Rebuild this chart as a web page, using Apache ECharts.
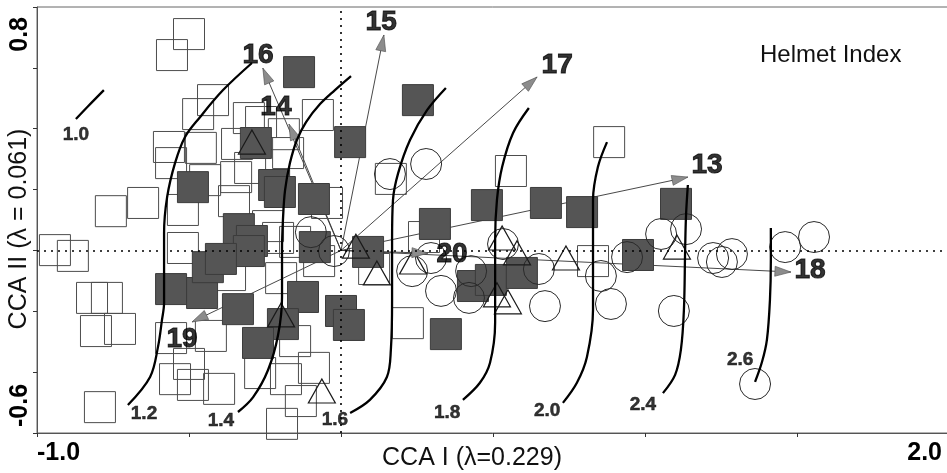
<!DOCTYPE html>
<html><head><meta charset="utf-8">
<script src="https://cdn.jsdelivr.net/npm/echarts@6/dist/echarts.min.js"></script>
<style>html,body{margin:0;padding:0;background:#fff}#c{width:947px;height:473px}</style>
</head><body><div id="c"></div>
<script>
// ---------------- data ----------------
const xTickLabels = ['-1.0', '2.0'];
const yTickLabels = ['-0.6', '0.8'];
const xAxisName = 'CCA I (λ=0.229)';
const yAxisName = 'CCA II (λ = 0.061)';
const panelTitle = 'Helmet Index';

const openSquares = [
  [-0.500,0.711],[-0.556,0.642],[-0.421,0.494],[-0.470,0.448],[-0.566,0.340],[-0.559,0.287],
  [-0.461,0.337],[-0.342,0.350],[-0.303,0.435],[-0.263,0.422],[-0.757,0.129],[-0.651,0.156],
  [-0.447,0.231],[-0.352,0.162],[-0.520,0.133],[-0.345,0.241],[-0.299,0.271],[-0.520,0.008],
  [-0.941,0.001],[-0.882,-0.018],[-0.819,-0.156],[-0.770,-0.156],[-0.806,-0.265],[-0.727,-0.258],
  [-0.793,-0.515],[-0.559,-0.288],[-0.428,-0.281],[-0.546,-0.423],[-0.500,-0.373],[-0.487,-0.442],
  [-0.401,-0.455],[-0.266,-0.403],[-0.194,-0.570],[-0.181,-0.423],[-0.132,-0.495],[-0.089,-0.386],
  [-0.151,-0.298],[0.220,-0.239],[-0.076,0.445],[-0.188,0.382],[-0.174,0.320],[-0.046,0.156],
  [-0.207,0.041],[-0.151,0.028],[0.273,0.044],[0.164,0.235],[0.882,0.356],[0.559,0.261],
  [0.829,-0.035],[-0.197,-0.091],[-0.072,-0.035],[0.109,-0.061],[-0.365,-0.081],[-0.240,0.080]
];
const filledSquares = [
  [-0.138,0.586],[0.253,0.494],[0.030,0.356],[-0.280,0.353],[-0.487,0.208],[-0.220,0.215],
  [-0.201,0.192],[-0.089,0.169],[-0.336,0.070],[-0.293,0.031],[-0.303,-0.002],[-0.086,0.011],
  [0.089,-0.005],[0.309,0.087],[0.480,0.149],[0.674,0.156],[0.793,0.126],[1.102,0.153],
  [0.977,-0.015],[0.434,-0.117],[0.493,-0.097],[0.595,-0.074],[0.345,-0.275],[-0.125,-0.153],
  [0.000,-0.199],[0.026,-0.245],[-0.339,-0.193],[-0.191,-0.242],[-0.273,-0.304],[-0.559,-0.127],
  [-0.457,-0.140],[-0.438,-0.055],[-0.395,-0.028]
];
const circles = [
  [-0.099,0.060],[-0.023,-0.002],[0.161,0.251],[0.280,0.284],[0.234,-0.068],[0.296,-0.025],
  [0.329,-0.133],[0.428,-0.068],[0.421,-0.156],[0.533,0.021],[0.651,-0.061],[0.671,-0.183],
  [0.855,-0.084],[0.888,-0.176],[0.941,-0.022],[1.053,0.054],[1.135,0.070],[1.095,-0.199],
  [1.224,-0.025],[1.253,-0.038],[1.286,-0.012],[1.461,0.011],[1.556,0.044],[1.362,-0.439]
];
const triangles = [
  [-0.293,0.356],[0.049,0.014],[0.118,-0.074],[0.237,-0.038],[0.530,0.041],[0.579,-0.008],
  [0.513,-0.146],[0.549,-0.169],[0.740,-0.025],[1.105,0.011],[-0.197,-0.212],[-0.063,-0.462]
];

const vectorNames = ['13','14','15','16','17','18','19','20'];
const vectorEnds = [
  [1.141,0.241],[-0.171,0.415],[0.141,0.708],[-0.257,0.599],
  [0.645,0.570],[1.480,-0.071],[-0.490,-0.235],[0.286,-0.009]
];
const vectorLabelPos = [
  [1.204,0.281],[-0.214,0.471],[0.132,0.751],[-0.273,0.642],
  [0.711,0.609],[1.543,-0.064],[-0.523,-0.291],[0.365,-0.012]
];

const isolineLevels = ['1.0','1.2','1.4','1.6','1.8','2.0','2.4','2.6'];
const isolines = [
  [[-0.872,0.432],[-0.832,0.474],[-0.780,0.527]],
  [[-0.293,0.616],[-0.388,0.527],[-0.464,0.438],[-0.513,0.373],[-0.546,0.287],[-0.572,0.175],
   [-0.582,0.057],[-0.582,-0.064],[-0.582,-0.173],[-0.589,-0.229],[-0.602,-0.317],[-0.628,-0.416],[-0.701,-0.508]],
  [[0.033,0.573],[-0.020,0.527],[-0.069,0.481],[-0.115,0.422],[-0.145,0.363],[-0.168,0.287],
   [-0.184,0.198],[-0.191,0.100],[-0.194,0.001],[-0.194,-0.153],[-0.207,-0.278],[-0.240,-0.393],
   [-0.289,-0.482],[-0.339,-0.531]],
  [[0.345,0.534],[0.283,0.461],[0.227,0.363],[0.188,0.254],[0.171,0.166],[0.168,0.034],
   [0.168,-0.163],[0.164,-0.327],[0.151,-0.416],[0.095,-0.491],[0.030,-0.534]],
  [[0.618,0.468],[0.566,0.386],[0.530,0.274],[0.513,0.166],[0.507,0.034],[0.507,-0.130],
   [0.507,-0.238],[0.490,-0.370],[0.457,-0.435],[0.401,-0.491]],
  [[0.875,0.356],[0.845,0.274],[0.829,0.166],[0.829,0.034],[0.829,-0.195],[0.809,-0.350],
   [0.776,-0.435],[0.730,-0.501]],
  [[1.141,0.215],[1.135,0.116],[1.132,0.001],[1.128,-0.196],[1.118,-0.327],[1.099,-0.409],[1.059,-0.469]],
  [[1.414,0.074],[1.414,-0.031],[1.411,-0.163],[1.401,-0.294],[1.385,-0.366],[1.362,-0.432]]
];
const isolineLabelPos = [
  [-0.872,0.379],[-0.648,-0.537],[-0.395,-0.561],[-0.020,-0.557],
  [0.349,-0.534],[0.678,-0.528],[0.993,-0.508],[1.313,-0.360]
];

const xMin = -1.0, xMax = 2.0, xStep = 0.5;
const yMin = -0.6, yMax = 0.8, yStep = 0.2;

// ---------------- chart ----------------
const FONT = 'Liberation Sans, Arial, Helvetica, sans-serif';
const near = (a, b) => Math.abs(a - b) < 1e-6;
const chart = echarts.init(document.getElementById('c'), null, {renderer: 'canvas'});

const HEAD_LEN = 16, HEAD_W = 10;

const series = [];
series.push({
  type: 'scatter', name: 'open', symbol: 'rect', symbolSize: 31,
  data: openSquares,
  itemStyle: {color: 'rgba(0,0,0,0)', borderColor: '#4d4d4d', borderWidth: 1, opacity: 1},
  markLine: {
    silent: true, symbol: 'none', label: {show: false}, animation: false,
    lineStyle: {color: '#000', type: [2, 5], width: 1.6},
    data: [{xAxis: 0}, {yAxis: 0}]
  }
});
series.push({
  type: 'scatter', name: 'filled', symbol: 'rect', symbolSize: 31,
  data: filledSquares,
  itemStyle: {color: '#555555', borderColor: '#3c3c3c', borderWidth: 1, opacity: 1}
});
series.push({
  type: 'scatter', name: 'circle', symbol: 'circle', symbolSize: 31,
  data: circles,
  itemStyle: {color: 'rgba(0,0,0,0)', borderColor: '#2a2a2a', borderWidth: 1, opacity: 1}
});
series.push({
  type: 'scatter', name: 'triangle', symbol: 'triangle', symbolSize: [27, 24],
  data: triangles,
  itemStyle: {color: 'rgba(0,0,0,0)', borderColor: '#1a1a1a', borderWidth: 1.2, opacity: 1}
});
isolines.forEach((pts, i) => {
  series.push({
    type: 'line', name: 'iso' + isolineLevels[i], data: pts, smooth: 0.35,
    showSymbol: false, symbol: 'none', silent: true,
    lineStyle: {color: '#000', width: 2.3}
  });
});
series.push({
  type: 'lines', coordinateSystem: 'cartesian2d', silent: true,
  data: vectorEnds.map(p => ({coords: [[0, 0], p]})),
  lineStyle: {color: '#333', width: 0.9, opacity: 1}
});
series.push({
  type: 'scatter', name: 'heads', silent: true,
  symbol: 'path://M0,0 L5,16 L-5,16 Z',
  symbolSize: [HEAD_W, HEAD_LEN],
  data: vectorEnds.map(p => {
    const a = Math.atan2(p[1], p[0]);
    return {
      value: p,
      symbolRotate: a * 180 / Math.PI - 90,
      symbolOffset: [-HEAD_LEN / 2 * Math.cos(a), HEAD_LEN / 2 * Math.sin(a)]
    };
  }),
  itemStyle: {color: '#8c8c8c', borderColor: '#555', borderWidth: 0.6, opacity: 1}
});
series.push({
  type: 'scatter', name: 'vecLabels', silent: true, symbolSize: 1,
  itemStyle: {color: 'rgba(0,0,0,0)'},
  data: vectorNames.map((n, i) => ({name: n, value: vectorLabelPos[i]})),
  label: {show: true, position: 'inside', formatter: '{b}', color: '#000',
    fontFamily: FONT, fontWeight: 'bold', fontSize: 28, textBorderColor: '#000', textBorderWidth: 1}
});
series.push({
  type: 'scatter', name: 'isoLabels', silent: true, symbolSize: 1,
  itemStyle: {color: 'rgba(0,0,0,0)'},
  data: isolineLevels.map((n, i) => ({name: n, value: isolineLabelPos[i]})),
  label: {show: true, position: 'inside', formatter: '{b}', color: '#000',
    fontFamily: FONT, fontWeight: 'bold', fontSize: 19, textBorderColor: '#000', textBorderWidth: 0.5}
});

const option = {
  animation: false,
  backgroundColor: '#fff',
  title: {text: panelTitle, left: 760, top: 43, padding: 0,
    textStyle: {fontFamily: FONT, fontSize: 24, fontWeight: 'normal', color: '#111'}},
  grid: {left: 37, top: 7, width: 912, height: 426, show: true, borderColor: '#666', borderWidth: 1,
    backgroundColor: 'rgba(0,0,0,0)', containLabel: false, outerBoundsMode: 'none'},
  xAxis: {
    type: 'value', min: xMin, max: xMax, interval: xStep,
    name: xAxisName, nameLocation: 'middle', nameGap: 13, nameMoveOverlap: false,
    nameTextStyle: {fontFamily: FONT, fontSize: 25, color: '#111', padding: [0, 42, 0, 0]},
    axisLine: {show: true, onZero: false, lineStyle: {color: '#555', width: 1}},
    axisTick: {show: true, length: 4, lineStyle: {color: '#333'}},
    splitLine: {show: false},
    axisLabel: {
      show: true, showMinLabel: true, showMaxLabel: true, margin: 8,
      alignMinLabel: 'left', alignMaxLabel: 'right', padding: [0, 7, 0, 0],
      fontFamily: FONT, fontWeight: 'bold', fontSize: 25, color: '#000',
      formatter: v => near(v, xMin) ? xTickLabels[0] : (near(v, xMax) ? xTickLabels[1] : '')
    }
  },
  yAxis: {
    type: 'value', min: yMin, max: yMax, interval: yStep,
    name: yAxisName, nameLocation: 'middle', nameGap: 5, nameMoveOverlap: false,
    nameTextStyle: {fontFamily: FONT, fontSize: 25, color: '#111', padding: [0, 18, 0, 0]},
    axisLine: {show: true, onZero: false, lineStyle: {color: '#555', width: 1}},
    axisTick: {show: true, length: 4, lineStyle: {color: '#333'}},
    splitLine: {show: false},
    axisLabel: {
      show: true, showMinLabel: true, showMaxLabel: true, margin: 4, rotate: 90,
      alignMinLabel: 'left', alignMaxLabel: 'right', padding: [0, 10, 0, 6],
      fontFamily: FONT, fontWeight: 'bold', fontSize: 25, color: '#000',
      formatter: v => near(v, yMin) ? yTickLabels[0] : (near(v, yMax) ? yTickLabels[1] : '')
    }
  },
  series: series
};
chart.setOption(option);
</script>
</body></html>
